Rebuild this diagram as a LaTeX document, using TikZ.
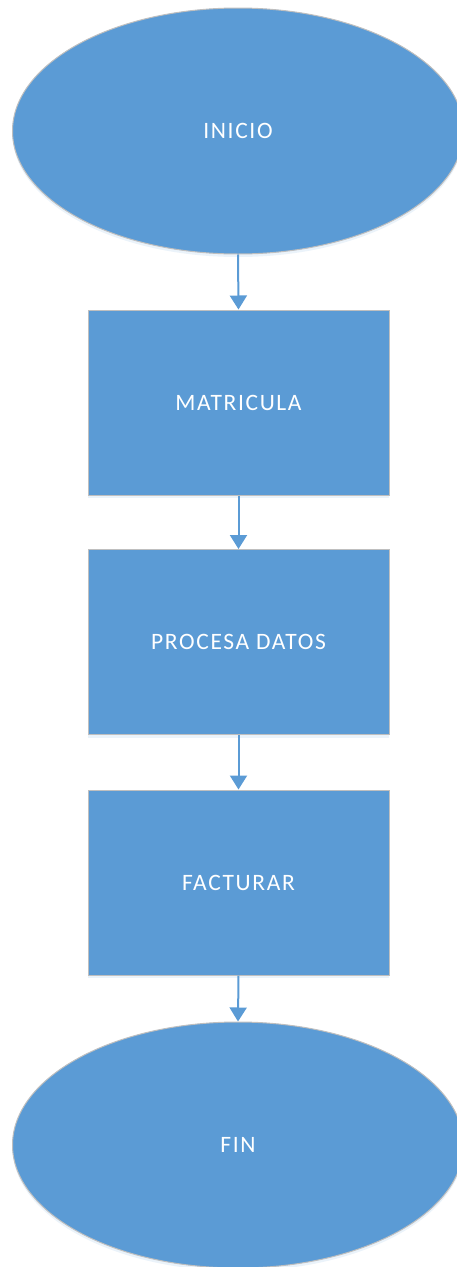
\documentclass[tikz,border=0pt]{standalone}
\usepackage{fontspec}
\setmainfont[LetterSpace=7]{Carlito}
\usetikzlibrary{shapes.geometric,arrows.meta,shadows}
\definecolor{fillblue}{HTML}{5B9BD5}
\definecolor{edgegray}{HTML}{BFBFBF}
\tikzset{
  shp/.style={fill=fillblue, draw=edgegray, line width=1pt, text=white, font=\fontsize{23.5pt}{28pt}\selectfont, inner sep=0pt,
    drop shadow={opacity=0.12, shadow xshift=0pt, shadow yshift=-3pt, fill=fillblue}},
  oval/.style={shp, ellipse, minimum width=451pt, minimum height=246pt},
  box/.style={shp, rectangle, minimum width=301pt, minimum height=185pt},
  conn/.style={draw=fillblue, line width=2pt, -{Triangle[width=17pt,length=14pt]}}
}
\begin{document}
\begin{tikzpicture}[x=1pt,y=-1pt]
\useasboundingbox (0,0) rectangle (456,1267);
\node[oval] (inicio) at (238,131) {INICIO};
\node[box] (matricula) at (238.5,402.5) {MATRICULA};
\node[box] (procesa) at (238.5,642) {PROCESA DATOS};
\node[box] (facturar) at (238.5,882.5) {FACTURAR};
\node[oval] (fin) at (238,1145) {FIN};
\draw[conn] (inicio.south) -- (matricula.north);
\draw[conn] (matricula.south) -- (procesa.north);
\draw[conn] (procesa.south) -- (facturar.north);
\draw[conn] (facturar.south) -- (fin.north);
\end{tikzpicture}
\end{document}
